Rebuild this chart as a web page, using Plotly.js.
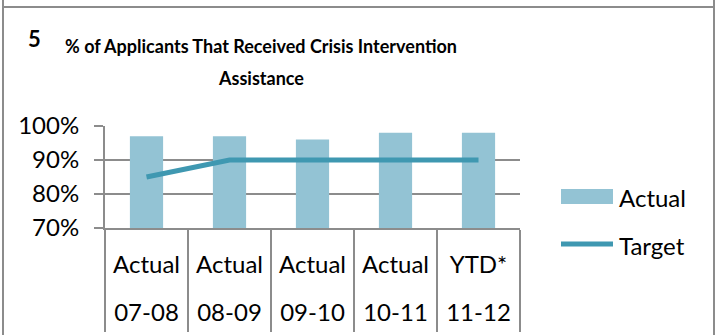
<!DOCTYPE html>
<html>
<head>
<meta charset="utf-8">
<script src="https://cdn.plot.ly/plotly-3.0.1.min.js"></script>
<style>
  html, body { margin: 0; padding: 0; background: #fff; }
  #wrap { position: relative; width: 718px; height: 335px; overflow: hidden; }
  #chart { position: absolute; left: 0; top: 0; width: 718px; height: 335px; }
  .ln { position: absolute; background: #8c8c8c; }
</style>
</head>
<body>
<div id="wrap">
  <div id="chart"></div>
  <div class="ln" style="left:2px; top:0; width:2px; height:335px;"></div>
  <div class="ln" style="left:713px; top:0; width:2px; height:335px;"></div>
  <div class="ln" style="left:2px; top:6px; width:713px; height:2px;"></div>
</div>
<script>
// Data
const chartNumber = "5";
const titleLine1 = "% of Applicants That Received Crisis Intervention";
const titleLine2 = "Assistance";
const periods = ["07-08", "08-09", "09-10", "10-11", "11-12"];
const kinds = ["Actual", "Actual", "Actual", "Actual", "YTD*"];
const actual = [0.97, 0.97, 0.96, 0.98, 0.98];
const target = [0.85, 0.90, 0.90, 0.90, 0.90];
const yTicks = [0.7, 0.8, 0.9, 1.0];

const BIG = 24;
const barColor = "#93c3d4";
const lineColor = "#3f98b1";
const grey = "#8c8c8c";

const tickText = periods.map((p, i) =>
  "<span style='font-size:" + BIG + "px'>" + kinds[i] + "</span><br><br>" +
  "<span style='font-size:" + BIG + "px'>" + p + "</span>");

const traces = [
  {
    type: "bar",
    name: "Actual",
    x: periods,
    y: actual,
    marker: { color: barColor },
    width: 0.4,
    showlegend: false,
    hoverinfo: "y"
  },
  {
    type: "scatter",
    mode: "lines",
    name: "Target",
    x: periods,
    y: target,
    line: { color: lineColor, width: 5 },
    showlegend: false,
    hoverinfo: "y"
  }
];

// pixel helpers for paper coordinates (plot area 105..520 x, 126..228 y)
const PL = 105, PR = 520, PT = 126, PB = 228;
const px = v => (v - PL) / (PR - PL);
const py = v => (PB - v) / (PB - PT);

const layout = {
  width: 718,
  height: 335,
  paper_bgcolor: "rgba(0,0,0,0)",
  plot_bgcolor: "rgba(0,0,0,0)",
  margin: { l: PL, r: 718 - PR, t: PT, b: 335 - PB, pad: 0 },
  showlegend: false,
  font: { family: "Lato, sans-serif", size: BIG, color: "#000" },
  title: {
    text: titleLine1,
    x: 261 / 718,
    xanchor: "center",
    y: 1 - 47 / 335,
    yanchor: "middle",
    font: { family: "Lato, sans-serif", size: 18, weight: "bold", color: "#000" }
  },
  annotations: [
    {
      text: titleLine2, xref: "paper", yref: "paper",
      x: px(261), y: py(78), xanchor: "center", yanchor: "middle",
      showarrow: false,
      font: { family: "Lato, sans-serif", size: 18, weight: "bold", color: "#000" }
    },
    {
      text: chartNumber, xref: "paper", yref: "paper",
      x: px(26), y: py(39), xanchor: "left", yanchor: "middle",
      showarrow: false,
      font: { family: "Lato, sans-serif", size: 22, weight: "bold", color: "#000" }
    },
    {
      text: traces[0].name, xref: "paper", yref: "paper",
      x: px(617), y: py(197), xanchor: "left", yanchor: "middle",
      showarrow: false, font: { size: BIG }
    },
    {
      text: traces[1].name, xref: "paper", yref: "paper",
      x: px(617), y: py(245), xanchor: "left", yanchor: "middle",
      showarrow: false, font: { size: BIG }
    }
  ],
  shapes: [
    {
      type: "rect", xref: "paper", yref: "paper",
      x0: px(561), x1: px(613), y0: py(189), y1: py(204),
      fillcolor: barColor, line: { width: 0 }
    },
    {
      type: "line", xref: "paper", yref: "paper",
      x0: px(561), x1: px(613), y0: py(244), y1: py(244),
      line: { color: lineColor, width: 5 }
    }
  ],
  xaxis: {
    type: "category",
    tickvals: periods,
    ticktext: tickText,
    showline: true,
    linecolor: grey,
    linewidth: 2,
    showgrid: false,
    ticks: "outside",
    tickson: "boundaries",
    ticklen: 102,
    tickwidth: 2,
    tickcolor: grey,
    ticklabelstandoff: 21,
    tickfont: { size: 18.5 },
    fixedrange: true
  },
  yaxis: {
    range: [0.7, 1.0],
    tickvals: yTicks,
    tickformat: ".0%",
    showline: true,
    linecolor: grey,
    linewidth: 2,
    showgrid: true,
    gridcolor: grey,
    gridwidth: 2,
    ticks: "outside",
    ticklen: 9,
    tickcolor: grey,
    tickwidth: 2,
    ticklabelstandoff: 10,
    zeroline: false,
    tickfont: { size: BIG },
    fixedrange: true
  },
  bargap: 0.6
};

Plotly.newPlot("chart", traces, layout, { displayModeBar: false, staticPlot: true });
</script>
</body>
</html>
